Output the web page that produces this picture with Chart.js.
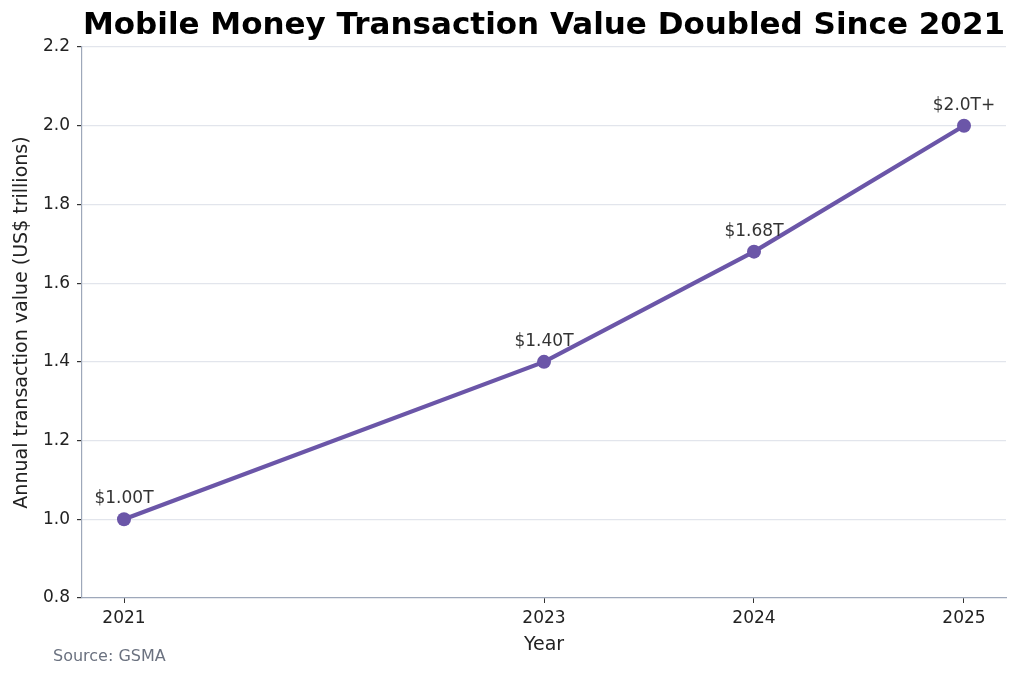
<!DOCTYPE html>
<html>
<head>
<meta charset="utf-8">
<script src="https://cdn.jsdelivr.net/npm/chart.js@4.4.1/dist/chart.umd.min.js"></script>
<style>
  html, body { margin: 0; padding: 0; background: #fff; }
  canvas { display: block; }
</style>
</head>
<body>
<canvas id="mmChart" width="1024" height="679"></canvas>
<script>
// data
const years = [2021, 2023, 2024, 2025]
const values = [1.00, 1.40, 1.68, 2.00]
const pointLabels = ['$1.00T', '$1.40T', '$1.68T', '$2.0T+']
const yTicks = [0.8, 1.0, 1.2, 1.4, 1.6, 1.8, 2.0, 2.2]

const FONT = "'DejaVu Sans', sans-serif"
const LINE = '#6b56a8'

// labels above points + source note
const labelPlugin = {
    id: 'labelPlugin',
    afterDatasetsDraw(chart) {
        const ctx = chart.ctx
        const meta = chart.getDatasetMeta(0)
        ctx.save()
        ctx.font = '17px ' + FONT
        ctx.fillStyle = '#333333'
        ctx.textAlign = 'center'
        ctx.textBaseline = 'alphabetic'
        meta.data.forEach((pt, i) => {
            ctx.fillText(pointLabels[i], pt.x, pt.y - 16)
        })
        ctx.restore()
    },
    afterDraw(chart) {
        const ctx = chart.ctx
        ctx.save()
        ctx.font = '16px ' + FONT
        ctx.fillStyle = '#6b7280'
        ctx.textAlign = 'left'
        ctx.textBaseline = 'middle'
        ctx.fillText('Source: GSMA', 53, 657)
        ctx.restore()
    }
}

new Chart(document.getElementById('mmChart'), {
    type: 'line',
    data: {
        datasets: [{
            data: years.map((y, i) => ({x: y, y: values[i]})),
            borderColor: LINE,
            backgroundColor: LINE,
            borderWidth: 4.2,
            pointRadius: 7,
            pointHoverRadius: 7,
            pointBackgroundColor: LINE,
            pointBorderWidth: 0,
            tension: 0,
            clip: false
        }]
    },
    options: {
        responsive: false,
        animation: false,
        layout: {padding: {left: 0, right: 18, top: 0, bottom: 0}},
        plugins: {
            legend: {display: false},
            tooltip: {enabled: false},
            title: {
                display: true,
                fullSize: false,
                text: 'Mobile Money Transaction Value Doubled Since 2021',
                color: '#000',
                font: {family: FONT, size: 31, weight: 'bold', lineHeight: 1.2},
                padding: {top: 7, bottom: 2.8}
            }
        },
        scales: {
            x: {
                type: 'linear',
                min: 2020.8,
                max: 2025.2,
                afterBuildTicks: (scale) => {
                    scale.ticks = years.map(v => ({value: v}))
                },
                afterFit: (scale) => { scale.height = 81 },
                ticks: {
                    color: '#222',
                    font: {family: FONT, size: 17},
                    padding: 5,
                    maxRotation: 0,
                    autoSkip: false,
                    callback: (v) => String(v)
                },
                grid: {
                    drawOnChartArea: false,
                    drawTicks: true,
                    tickLength: 5,
                    tickColor: '#333'
                },
                border: {display: true, color: '#9ea8ba', width: 1.2},
                title: {
                    display: true,
                    text: 'Year',
                    color: '#222',
                    font: {family: FONT, size: 19},
                    padding: {top: 0, bottom: 22.6}
                }
            },
            y: {
                min: 0.8,
                max: 2.2,
                afterBuildTicks: (scale) => {
                    scale.ticks = yTicks.map(v => ({value: v}))
                },
                afterFit: (scale) => { scale.width = 82 },
                ticks: {
                    color: '#222',
                    font: {family: FONT, size: 17},
                    padding: 7,
                    callback: (v) => v.toFixed(1)
                },
                grid: {
                    color: (c) => c.tick && c.tick.value === 0.8 ? 'rgba(0,0,0,0)' : '#e2e5ec',
                    lineWidth: 1.2,
                    drawTicks: true,
                    tickLength: 5,
                    tickColor: '#333'
                },
                border: {display: true, color: '#9ea8ba', width: 1.2},
                title: {
                    display: true,
                    text: 'Annual transaction value (US$ trillions)',
                    color: '#222',
                    font: {family: FONT, size: 19},
                    padding: {top: 10.6, bottom: 0}
                }
            }
        }
    },
    plugins: [labelPlugin]
})
</script>
</body>
</html>
